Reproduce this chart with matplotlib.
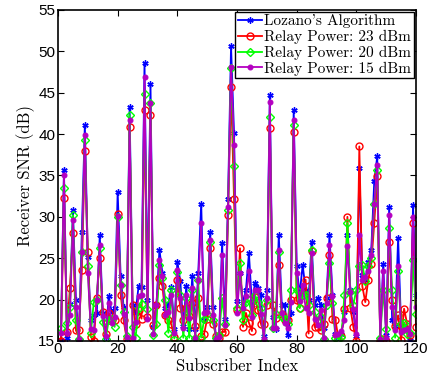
import numpy as np
import matplotlib
matplotlib.use('Agg')
import matplotlib.pyplot as plt

# subscriber index 1..120
subscribers = np.arange(1, 121)

# Lozano's algorithm (blue)
snr_lozano = [
    15.1, 35.7, 15.4, 19.5, 30.8, 20.0, 15.1, 28.2, 41.1, 25.2,
    17.5, 18.1, 18.4, 27.8, 18.4, 15.5, 20.4, 18.5, 19.0, 33.0,
    22.8, 19.1, 15.3, 43.3, 19.4, 18.4, 21.6, 21.5, 48.6, 20.0,
    46.1, 16.7, 19.4, 26.0, 23.2, 19.0, 19.5, 21.5, 16.5, 24.6,
    22.2, 16.8, 21.6, 16.4, 22.8, 16.5, 23.2, 31.6, 17.5, 19.1,
    28.2, 19.1, 15.3, 15.6, 26.8, 17.7, 32.2, 50.6, 40.1, 19.8,
    23.2, 19.6, 21.2, 25.6, 19.4, 22.0, 21.4, 20.5, 15.6, 21.2,
    44.7, 17.9, 16.4, 27.8, 19.4, 19.4, 15.7, 18.4, 42.9, 24.0,
    20.6, 24.2, 21.2, 19.9, 27.0, 19.4, 20.2, 19.4, 16.6, 20.2,
    27.8, 20.6, 15.9, 15.5, 15.8, 18.5, 27.8, 21.2, 18.5, 15.6,
    35.9, 23.0, 22.4, 24.6, 26.0, 34.3, 37.3, 15.1, 24.3, 15.7,
    31.2, 17.5, 16.8, 27.4, 16.8, 16.8, 16.6, 15.1, 31.4, 20.6,
]

# relay power 23 dBm (red)
snr_23dbm = [
    15.0, 32.3, 16.1, 21.4, 28.0, 16.3, 16.3, 23.6, 37.9, 25.8,
    15.5, 15.0, 20.2, 25.0, 18.5, 15.8, 18.4, 17.5, 17.5, 30.3,
    20.6, 17.5, 15.3, 40.9, 19.4, 17.1, 18.7, 17.7, 42.9, 17.9,
    42.3, 16.9, 19.4, 22.6, 21.6, 18.1, 17.5, 17.0, 15.5, 22.4,
    19.0, 17.5, 19.0, 18.0, 19.6, 16.8, 20.2, 15.6, 15.9, 17.7,
    26.2, 17.1, 15.6, 15.4, 16.1, 16.1, 30.2, 45.7, 32.2, 18.8,
    26.2, 16.7, 18.4, 17.2, 16.2, 20.3, 18.7, 17.1, 17.0, 19.4,
    40.7, 19.4, 17.8, 24.2, 18.3, 17.5, 17.5, 19.9, 40.3, 19.9,
    19.0, 20.5, 22.4, 15.9, 25.9, 16.7, 16.7, 16.3, 17.1, 20.2,
    25.4, 17.7, 17.5, 15.3, 15.6, 18.9, 30.0, 19.0, 16.7, 15.0,
    38.5, 21.6, 19.7, 22.4, 24.3, 29.2, 34.9, 15.0, 15.3, 15.0,
    27.0, 19.9, 16.8, 18.1, 15.1, 18.9, 17.1, 15.7, 29.2, 16.7,
]

# relay power 20 dBm (green)
snr_20dbm = [
    16.6, 33.5, 17.2, 19.1, 30.2, 17.5, 15.2, 25.8, 39.3, 24.0,
    16.0, 19.7, 20.0, 26.2, 17.3, 15.3, 17.5, 17.7, 16.7, 30.0,
    21.8, 18.5, 15.6, 42.3, 16.7, 15.4, 19.0, 19.5, 44.9, 18.9,
    43.7, 15.7, 17.1, 24.2, 22.6, 20.0, 16.0, 21.2, 15.3, 23.3,
    20.6, 15.4, 20.2, 15.4, 21.2, 15.4, 22.4, 15.4, 17.7, 18.3,
    27.0, 17.5, 15.4, 15.7, 20.2, 17.1, 30.8, 48.0, 36.1, 19.0,
    24.4, 17.5, 19.7, 19.9, 18.1, 20.6, 19.7, 19.0, 15.0, 20.0,
    42.1, 16.6, 18.3, 25.8, 17.9, 17.7, 17.1, 21.2, 41.1, 21.2,
    19.0, 20.6, 20.6, 19.4, 26.0, 18.5, 17.5, 17.9, 15.2, 19.4,
    24.4, 19.6, 15.4, 15.3, 15.5, 20.5, 29.3, 20.9, 19.4, 21.2,
    24.0, 24.2, 22.3, 24.0, 25.0, 31.6, 35.7, 15.4, 21.2, 16.4,
    28.6, 21.2, 15.4, 23.4, 17.0, 17.2, 15.9, 16.0, 24.8, 18.3,
]

# relay power 15 dBm (magenta)
snr_15dbm = [
    16.0, 35.1, 16.0, 18.1, 29.6, 19.1, 15.3, 25.8, 39.9, 23.2,
    16.5, 16.3, 20.0, 26.6, 18.0, 15.6, 19.6, 17.2, 17.9, 30.1,
    21.8, 18.3, 15.5, 41.7, 15.4, 17.3, 20.4, 20.5, 46.9, 17.7,
    43.7, 15.9, 19.4, 24.8, 22.9, 18.1, 18.5, 20.5, 16.0, 23.6,
    20.2, 16.6, 20.6, 17.8, 21.4, 15.4, 22.4, 29.2, 18.4, 18.5,
    27.2, 18.1, 15.3, 15.5, 25.4, 16.9, 31.2, 48.1, 38.7, 18.4,
    23.2, 19.0, 20.4, 23.4, 17.9, 21.2, 21.2, 18.3, 15.3, 20.2,
    43.9, 16.6, 16.6, 26.0, 18.4, 17.2, 16.6, 19.7, 41.7, 23.2,
    19.8, 21.8, 19.0, 18.4, 25.6, 17.7, 16.9, 18.8, 15.4, 19.6,
    26.6, 20.4, 15.7, 15.9, 16.2, 17.5, 26.5, 20.9, 18.9, 15.9,
    27.8, 22.4, 22.7, 23.4, 25.4, 31.6, 36.3, 15.3, 23.4, 15.4,
    30.2, 19.1, 16.3, 24.0, 16.1, 16.3, 16.4, 15.9, 30.0, 19.1,
]

labels = ["Lozano's Algorithm", 'Relay Power: 23 dBm',
          'Relay Power: 20 dBm', 'Relay Power: 15 dBm']

fig = plt.figure(figsize=(4.28, 3.81), dpi=100)
ax = fig.add_axes([0.1355, 0.105, 0.8365, 0.869])

lw = 1.3
ax.plot(subscribers, snr_lozano, color='#0000ff', lw=lw, marker=(6, 2, 0),
        ms=4.5, mew=1.0, label=labels[0])
ax.plot(subscribers, snr_23dbm, color='#ff0000', lw=lw, marker='o',
        ms=5, mfc='none', mew=1.0, label=labels[1])
ax.plot(subscribers, snr_20dbm, color='#00ff00', lw=lw, marker='D',
        ms=3.8, mfc='none', mew=1.0, label=labels[2])
ax.plot(subscribers, snr_15dbm, color='#b400c0', lw=lw, marker='o',
        ms=3.5, mew=0.8, label=labels[3])

ax.set_xlim(0, 120)
ax.set_ylim(15, 55)
ax.set_xticks(range(0, 121, 20))
ax.set_yticks(range(15, 56, 5))
ax.tick_params(direction='in', top=True, right=True, length=4, width=0.8,
               labelsize=11)
for t in ax.get_xticklabels() + ax.get_yticklabels():
    t.set_fontfamily('Liberation Sans')
ax.tick_params(axis='x', pad=1)
ax.tick_params(axis='y', pad=2)
for s in ax.spines.values():
    s.set_linewidth(1.2)

ax.set_xlabel('Subscriber Index', fontfamily='cmr10', fontsize=12, labelpad=1.5)
ax.set_ylabel('Receiver SNR (dB)', fontfamily='cmr10', fontsize=12, labelpad=2)

leg = ax.legend(loc='upper right', prop={'family': 'cmr10', 'size': 11},
                fancybox=False, framealpha=1, edgecolor='black',
                borderpad=0.15, labelspacing=0.1, handlelength=1.6,
                handletextpad=0.15, borderaxespad=0.15)
leg.get_frame().set_linewidth(1.0)

plt.savefig('out.png', dpi=100)
plt.close()
